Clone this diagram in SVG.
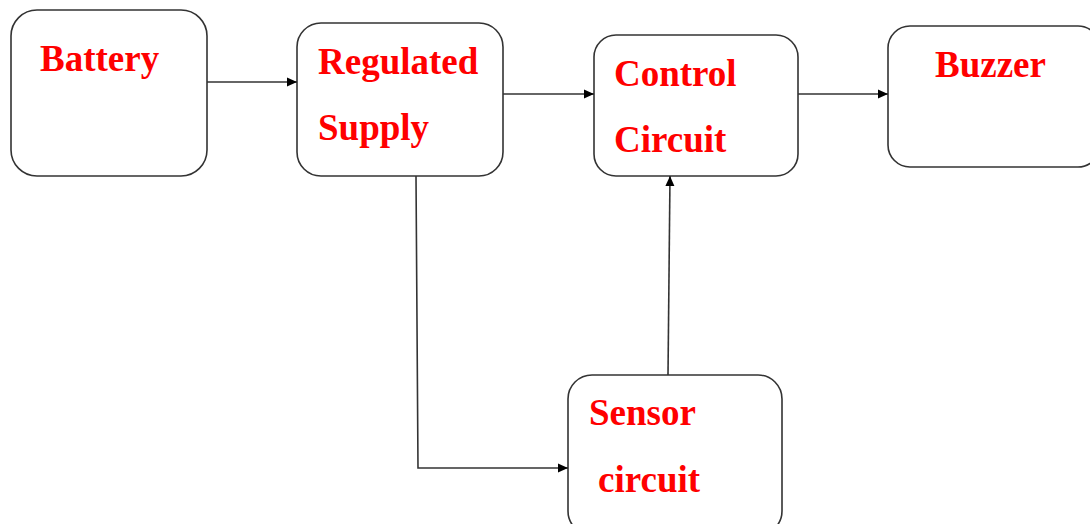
<svg xmlns="http://www.w3.org/2000/svg" width="1090" height="524" viewBox="0 0 1090 524">
<defs>
<style>
.box{fill:#fff;stroke:#333;stroke-width:1.6}
.lbl{font-family:"Liberation Serif","Times New Roman",serif;font-weight:bold;font-size:37px;fill:#ff0000}
.wire{fill:none;stroke:#333;stroke-width:1.6}
</style>
<marker id="ah" viewBox="0 0 10 10" refX="10" refY="5" markerWidth="10" markerHeight="10" markerUnits="userSpaceOnUse" orient="auto">
<path d="M0,0.5 L10,5 L0,9.5 Z" fill="#000"/>
</marker>
</defs>
<rect width="1090" height="524" fill="#fff"/>
<g id="battery">
<rect class="box" x="11" y="10" width="196" height="166" rx="26" ry="26"/>
<text class="lbl" x="40" y="71">Battery</text>
</g>
<g id="regulated-supply">
<rect class="box" x="297" y="23" width="206" height="153" rx="24" ry="24"/>
<text class="lbl" x="318" y="74">Regulated</text>
<text class="lbl" x="318" y="140">Supply</text>
</g>
<g id="control-circuit">
<rect class="box" x="594" y="35" width="204" height="141" rx="22" ry="22"/>
<text class="lbl" x="614" y="86">Control</text>
<text class="lbl" x="614" y="152">Circuit</text>
</g>
<g id="buzzer">
<rect class="box" x="888" y="26" width="212" height="141" rx="22" ry="22"/>
<text class="lbl" x="935" y="77">Buzzer</text>
</g>
<g id="sensor-circuit">
<rect class="box" x="568" y="375" width="214" height="160" rx="24" ry="24"/>
<text class="lbl" x="589" y="425">Sensor</text>
<text class="lbl" x="598" y="492">circuit</text>
</g>
<g id="connectors">
<line class="wire" x1="207" y1="82" x2="297" y2="82" marker-end="url(#ah)"/>
<line class="wire" x1="503" y1="94" x2="594" y2="94" marker-end="url(#ah)"/>
<line class="wire" x1="798" y1="94" x2="888" y2="94" marker-end="url(#ah)"/>
<line class="wire" x1="668" y1="375" x2="670" y2="176" marker-end="url(#ah)"/>
<polyline class="wire" points="416,176 418,468 568,468" marker-end="url(#ah)"/>
</g>
</svg>
